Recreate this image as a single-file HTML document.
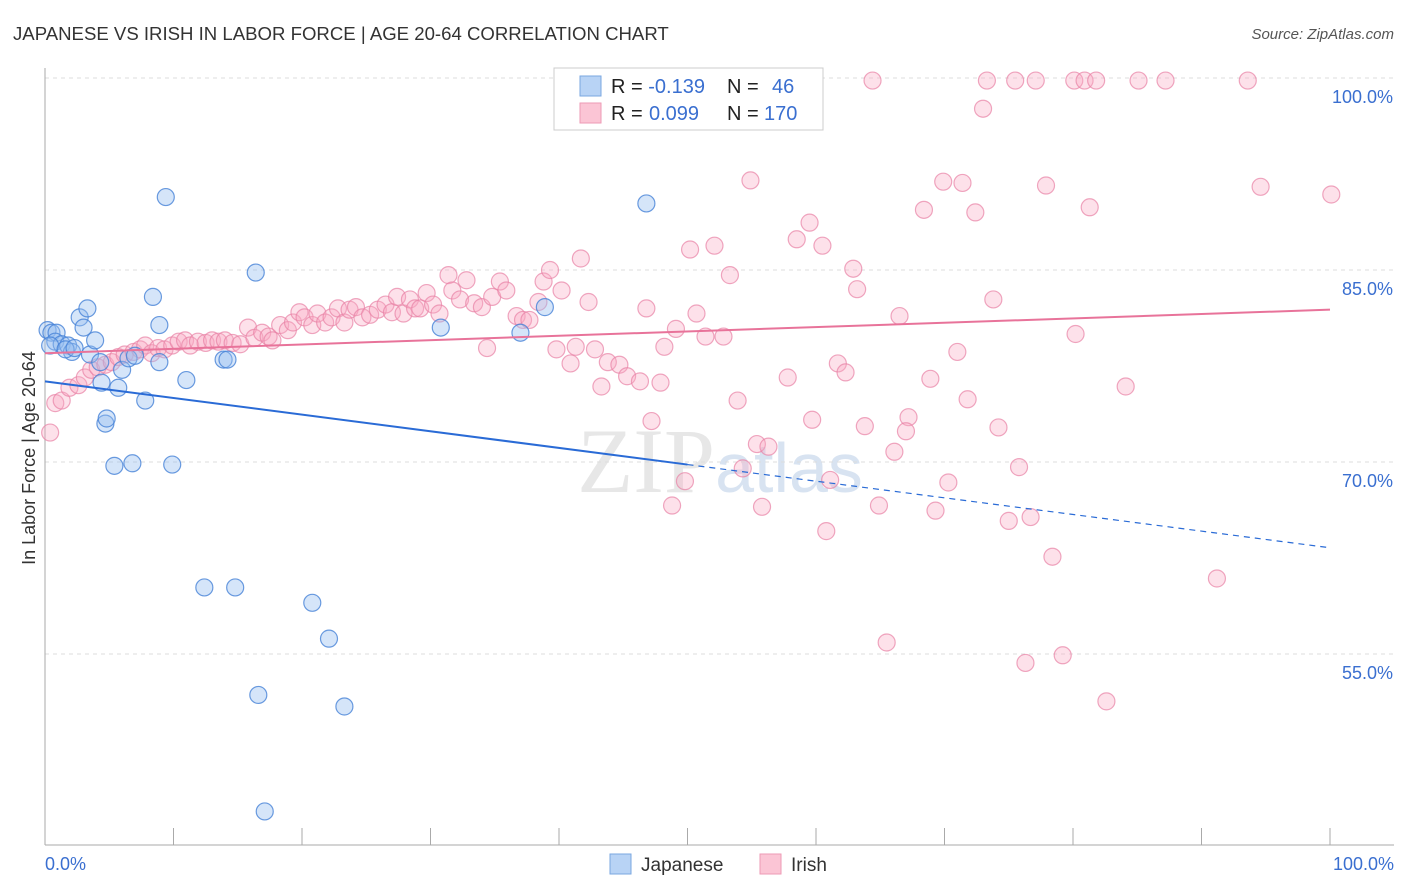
<!DOCTYPE html>
<html><head><meta charset="utf-8"><style>
body{margin:0;background:#fff;font-family:"Liberation Sans",sans-serif;}
#c{position:relative;width:1406px;height:892px;overflow:hidden}
</style></head><body>
<div id="c">
<svg id="s" width="1406" height="892">
<text x="13" y="40" font-size="18.6" fill="#333">JAPANESE VS IRISH IN LABOR FORCE | AGE 20-64 CORRELATION CHART</text>
<text x="1394" y="39" font-size="15" fill="#555" font-style="italic" text-anchor="end">Source: ZipAtlas.com</text>
<text x="35" y="458" font-size="18" fill="#333" text-anchor="middle" transform="rotate(-90 35 458)">In Labor Force | Age 20-64</text>
<text x="720" y="492" font-size="92" fill="#ddd" text-anchor="middle" font-family="Liberation Serif,serif" opacity="0.7">ZIP<tspan font-family="Liberation Sans,sans-serif" font-size="70" fill="#c8d8ec">atlas</tspan></text>
<g id="grid"></g><g id="pts"></g><g id="lines"></g>
<g>
<rect x="554" y="68" width="269" height="62" fill="#fff" stroke="#ccc"/>
<rect x="580" y="76" width="21" height="20" fill="#b8d3f5" stroke="#7aa7e0"/>
<rect x="580" y="103" width="21" height="20" fill="#fbc5d5" stroke="#ee9ab5"/>
<text x="611" y="93" font-size="20" fill="#222">R = <tspan fill="#3a6fd0">-0.139</tspan><tspan x="727">N = </tspan><tspan x="772" fill="#3a6fd0">46</tspan></text>
<text x="611" y="120" font-size="20" fill="#222">R = <tspan x="649" fill="#3a6fd0">0.099</tspan><tspan x="727">N = </tspan><tspan x="764" fill="#3a6fd0">170</tspan></text>
</g>
<g>
<rect x="610" y="854" width="21" height="20" fill="#b8d3f5" stroke="#7aa7e0"/>
<text x="641" y="871" font-size="19" fill="#333">Japanese</text>
<rect x="760" y="854" width="21" height="20" fill="#fbc5d5" stroke="#ee9ab5"/>
<text x="791" y="871" font-size="19" fill="#333">Irish</text>
</g>
</svg>
</div>
<script>
const yTicks=[55,70,85,100];
const yTickLabels=["55.0%","70.0%","85.0%","100.0%"];
const xTickLabels=["0.0%","100.0%"];
const japX=[0.2,0.5,0.9,0.8,1.3,1.8,2.1,2.7,3.0,3.3,3.5,3.9,4.3,4.4,4.7,4.8,5.4,5.7,6.0,6.5,6.8,7.0,7.8,8.4,8.9,8.9,9.4,9.9,11.0,12.4,13.9,14.2,14.8,16.4,16.6,17.1,20.8,22.1,23.3,30.8,37.0,38.9,46.8,0.4,1.6,2.3];
const japY=[80.3,80.1,80.1,79.4,79.2,79.1,78.6,81.3,80.5,82.0,78.4,79.5,77.8,76.2,73.0,73.4,69.7,75.8,77.2,78.1,69.9,78.3,74.8,82.9,80.7,77.8,90.7,69.8,76.4,60.2,78.0,78.0,60.2,84.8,51.8,42.7,59.0,56.2,50.9,80.5,80.1,82.1,90.2,79.1,78.8,78.9];
const irX=[0.4,0.8,1.3,1.9,2.6,3.1,3.6,4.1,4.7,5.2,5.7,6.2,6.9,7.4,7.8,8.3,8.8,9.3,9.9,10.4,10.9,11.3,11.9,12.5,13.0,13.5,14.0,14.6,15.2,15.8,16.3,16.9,17.4,17.7,18.3,18.9,19.3,19.8,20.2,20.8,21.2,21.8,22.3,22.8,23.3,23.7,24.2,24.7,25.3,25.9,26.5,27.0,27.4,27.9,28.4,28.8,29.2,29.7,30.2,30.7,31.4,31.7,32.3,32.8,33.4,34.0,34.4,34.8,35.4,35.9,36.7,37.2,37.7,38.4,38.8,39.3,39.8,40.2,40.9,41.3,41.7,42.3,42.8,43.3,43.8,44.7,45.3,46.3,46.8,47.2,47.9,48.2,48.8,49.1,49.8,50.2,50.7,51.4,52.1,52.8,53.3,53.9,54.3,54.9,55.4,55.8,56.3,57.8,58.5,59.0,59.5,59.7,60.5,60.8,61.1,61.7,62.3,62.9,63.2,63.8,64.4,64.9,65.5,66.1,66.5,67.2,67.0,68.4,68.9,69.3,69.9,70.3,71.0,71.4,71.8,72.4,73.0,73.3,73.8,74.2,75.0,75.5,75.8,76.3,76.7,77.1,77.9,78.4,79.2,80.1,80.2,80.9,81.3,81.8,82.6,84.1,85.1,87.2,91.2,93.6,94.6,100.1];
const irY=[72.3,74.6,74.8,75.8,76.0,76.6,77.2,77.4,77.6,77.8,78.2,78.4,78.6,78.8,79.1,78.5,78.9,78.8,79.1,79.4,79.5,79.1,79.4,79.3,79.5,79.4,79.5,79.3,79.2,80.5,79.7,80.1,79.8,79.5,80.7,80.3,80.9,81.7,81.3,80.7,81.6,80.9,81.3,82.0,80.9,81.9,82.1,81.3,81.5,81.9,82.3,81.7,82.9,81.6,82.7,82.0,82.0,83.2,82.3,81.6,84.6,83.4,82.7,84.2,82.4,82.1,78.9,82.9,84.1,83.4,81.4,81.1,81.1,82.5,84.1,85.0,78.8,83.4,77.7,79.0,85.9,82.5,78.8,75.9,77.8,77.6,76.7,76.3,82.0,73.2,76.2,79.0,66.6,80.4,68.5,86.6,81.6,79.8,86.9,79.8,84.6,74.8,69.5,92.0,71.4,66.5,71.2,76.6,87.4,99.8,88.7,73.3,86.9,64.6,68.6,77.7,77.0,85.1,83.5,72.8,99.8,66.6,55.9,70.8,81.4,73.5,72.4,89.7,76.5,66.2,91.9,68.4,78.6,91.8,74.9,89.5,97.6,99.8,82.7,72.7,65.4,99.8,69.6,54.3,65.7,99.8,91.6,62.6,54.9,99.8,80.0,99.8,89.9,99.8,51.3,75.9,99.8,99.8,60.9,99.8,91.5,90.9];
const japTrend=[76.3,63.3];
const irTrend=[78.5,81.9];
const japSolidEnd=50;

const NS="http://www.w3.org/2000/svg";
const X=v=>45+v*12.85;
const Y=v=>78+(100-v)*12.8;
function mk(tag,attrs,parent){const e=document.createElementNS(NS,tag);for(const k in attrs)e.setAttribute(k,attrs[k]);parent.appendChild(e);return e;}
const grid=document.getElementById('grid'),pts=document.getElementById('pts'),lines=document.getElementById('lines');
yTicks.forEach((t,i)=>{
  const l=mk('line',{x1:45,x2:1394,y1:Y(t),y2:Y(t),stroke:'#ddd','stroke-dasharray':'4,4'},grid);
  
  
  const tx=mk('text',{x:1393,y:Y(t)+25,'font-size':18,fill:'#3a6fd0','text-anchor':'end'},grid);
  tx.textContent=yTickLabels[i];
  
  
});
const ax=mk('line',{x1:45,x2:45,y1:68,y2:845,stroke:'#aaa'},grid);


const bx=mk('line',{x1:45,x2:1394,y1:845,y2:845,stroke:'#aaa'},grid);


for(let i=0;i<=10;i++){const t=mk('line',{x1:X(i*10),x2:X(i*10),y1:828,y2:845,stroke:'#aaa'},grid);
  
  }
[[0,'start',45],[1,'end',1394]].forEach(([i,a,x])=>{const t=mk('text',{x:x,y:870,'font-size':18,fill:'#3a6fd0','text-anchor':a},grid);t.textContent=xTickLabels[i];
  
  });
irX.forEach((v,i)=>{const c=mk('circle',{cx:X(v),cy:Y(irY[i]),r:8.5,fill:'rgba(248,170,195,0.35)',stroke:'rgba(232,130,165,0.7)','stroke-width':1.2},pts);
  
  });
japX.forEach((v,i)=>{const c=mk('circle',{cx:X(v),cy:Y(japY[i]),r:8.5,fill:'rgba(150,190,240,0.4)',stroke:'rgba(70,130,215,0.8)','stroke-width':1.2},pts);
  
  });
const jy=x=>japTrend[0]+(japTrend[1]-japTrend[0])*x/100;
const l1=mk('line',{x1:X(0),y1:Y(jy(0)),x2:X(japSolidEnd),y2:Y(jy(japSolidEnd)),stroke:'#2a6bd6','stroke-width':2},lines);


const l2=mk('line',{x1:X(japSolidEnd),y1:Y(jy(japSolidEnd)),x2:X(100),y2:Y(jy(100)),stroke:'#2a6bd6','stroke-width':1.2,'stroke-dasharray':'6,5'},lines);


const l3=mk('line',{x1:X(0),y1:Y(irTrend[0]),x2:X(100),y2:Y(irTrend[1]),stroke:'#e8739a','stroke-width':2},lines);


</script>
</body></html>
